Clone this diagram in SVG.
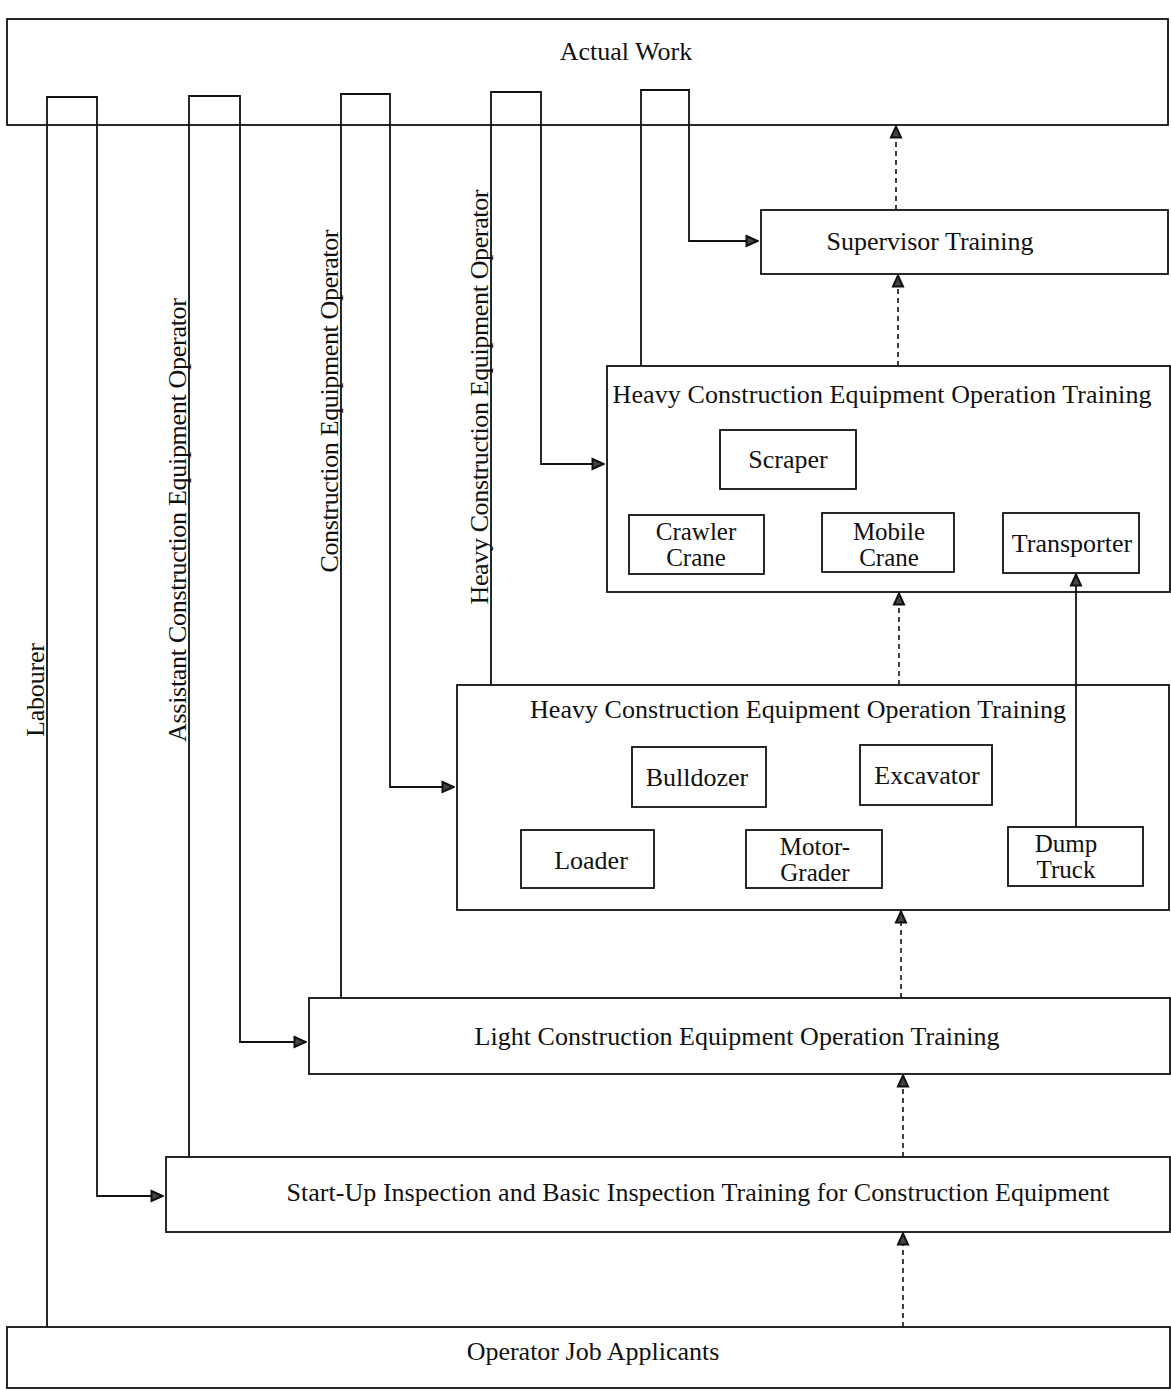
<svg xmlns="http://www.w3.org/2000/svg" width="1171" height="1390" viewBox="0 0 1171 1390">
  <style>
    .box { fill: none; stroke: #111; stroke-width: 1.8; }
    .lbl { font-family: "Liberation Serif", "Times New Roman", serif; font-size: 26px; fill: #111; text-anchor: middle; }
    .two { font-size: 25px; }
    .path { fill: none; stroke: #111; stroke-width: 1.8; }
    .dash { fill: none; stroke: #111; stroke-width: 1.6; stroke-dasharray: 5 4; }
  </style>
  <defs>
    <marker id="arrow" markerUnits="userSpaceOnUse" viewBox="0 0 14 14" refX="13" refY="7" markerWidth="14" markerHeight="14" orient="auto">
      <path d="M1.5,2 L12.5,7 L1.5,12 Z" fill="#444" stroke="#111" stroke-width="2" stroke-linejoin="miter"/>
    </marker>
  </defs>
  <rect width="1171" height="1390" fill="#fff"/>

  <!-- stages -->
  <g id="actual-work">
    <rect class="box" x="7" y="19" width="1161" height="106"/>
    <text class="lbl" x="626" y="60">Actual Work</text>
  </g>
  <g id="supervisor-training">
    <rect class="box" x="761" y="210" width="407" height="64"/>
    <text class="lbl" x="930" y="250" textLength="207">Supervisor Training</text>
  </g>
  <g id="heavy-training-2">
    <rect class="box" x="607" y="366" width="563" height="226"/>
    <text class="lbl" x="882" y="403" textLength="539">Heavy Construction Equipment Operation Training</text>
  </g>
  <g id="scraper">
    <rect class="box" x="720" y="430" width="136" height="59"/>
    <text class="lbl" x="788" y="468">Scraper</text>
  </g>
  <g id="crawler-crane">
    <rect class="box" x="629" y="515" width="135" height="59"/>
    <text class="lbl two" x="696" y="540">Crawler</text>
    <text class="lbl two" x="696" y="566">Crane</text>
  </g>
  <g id="mobile-crane">
    <rect class="box" x="822" y="513" width="132" height="59"/>
    <text class="lbl two" x="889" y="540">Mobile</text>
    <text class="lbl two" x="889" y="566">Crane</text>
  </g>
  <g id="transporter">
    <rect class="box" x="1003" y="513" width="136" height="60"/>
    <text class="lbl" x="1072" y="552">Transporter</text>
  </g>
  <g id="heavy-training-1">
    <rect class="box" x="457" y="685" width="712" height="225"/>
    <text class="lbl" x="798" y="718" textLength="536">Heavy Construction Equipment Operation Training</text>
  </g>
  <g id="bulldozer">
    <rect class="box" x="632" y="747" width="134" height="60"/>
    <text class="lbl" x="697" y="786">Bulldozer</text>
  </g>
  <g id="excavator">
    <rect class="box" x="860" y="745" width="132" height="60"/>
    <text class="lbl" x="927" y="784">Excavator</text>
  </g>
  <g id="loader">
    <rect class="box" x="521" y="830" width="133" height="58"/>
    <text class="lbl" x="591" y="869">Loader</text>
  </g>
  <g id="motor-grader">
    <rect class="box" x="746" y="830" width="136" height="58"/>
    <text class="lbl two" x="815" y="855">Motor-</text>
    <text class="lbl two" x="815" y="881">Grader</text>
  </g>
  <g id="dump-truck">
    <rect class="box" x="1008" y="827" width="135" height="59"/>
    <text class="lbl two" x="1066" y="852">Dump</text>
    <text class="lbl two" x="1066" y="878">Truck</text>
  </g>
  <g id="light-training">
    <rect class="box" x="309" y="998" width="861" height="76"/>
    <text class="lbl" x="737" y="1045" textLength="525">Light Construction Equipment Operation Training</text>
  </g>
  <g id="startup-training">
    <rect class="box" x="166" y="1157" width="1004" height="75"/>
    <text class="lbl" x="698" y="1201" textLength="823">Start-Up Inspection and Basic Inspection Training for Construction Equipment</text>
  </g>
  <g id="job-applicants">
    <rect class="box" x="7" y="1327" width="1163" height="61"/>
    <text class="lbl" x="593" y="1360">Operator Job Applicants</text>
  </g>

  <!-- role labels along the career paths -->
  <g id="role-labels">
    <text class="lbl" transform="translate(44,690) rotate(-90)" textLength="94">Labourer</text>
    <text class="lbl" transform="translate(186,520) rotate(-90)" textLength="444">Assistant Construction Equipment Operator</text>
    <text class="lbl" transform="translate(338,401) rotate(-90)" textLength="343">Construction Equipment Operator</text>
    <text class="lbl" transform="translate(488,397) rotate(-90)" textLength="415">Heavy Construction Equipment Operator</text>
  </g>

  <!-- connectors -->
  <g id="connectors">
    <!-- career loops: from a stage up into actual work and back down to the next training -->
    <path class="path" d="M47,1327 V97 H97 V1196 H163" marker-end="url(#arrow)"/>
    <path class="path" d="M189,1157 V96 H240 V1042 H306" marker-end="url(#arrow)"/>
    <path class="path" d="M341,998 V94 H390 V787 H454" marker-end="url(#arrow)"/>
    <path class="path" d="M491,685 V92 H541 V464 H604" marker-end="url(#arrow)"/>
    <path class="path" d="M641,366 V90 H689 V241 H758" marker-end="url(#arrow)"/>
    <!-- progression between stages -->
    <path class="dash" d="M903,1327 V1233" marker-end="url(#arrow)"/>
    <path class="dash" d="M903,1157 V1075" marker-end="url(#arrow)"/>
    <path class="dash" d="M901,998 V911" marker-end="url(#arrow)"/>
    <path class="dash" d="M899,685 V593" marker-end="url(#arrow)"/>
    <path class="dash" d="M898,366 V275" marker-end="url(#arrow)"/>
    <path class="dash" d="M896,210 V126" marker-end="url(#arrow)"/>
    <!-- dump truck to transporter -->
    <path class="path" d="M1076,827 V574" marker-end="url(#arrow)"/>
  </g>
</svg>
